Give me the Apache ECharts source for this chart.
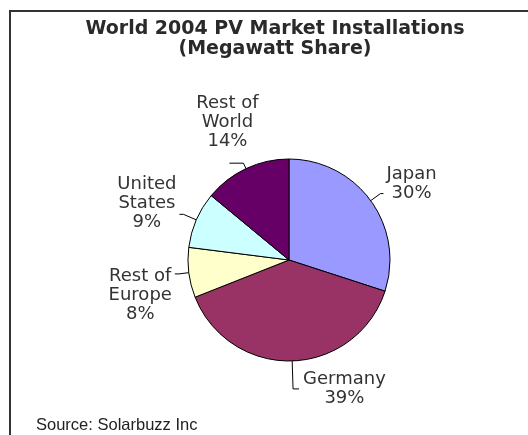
<!DOCTYPE html>
<html>
<head>
<meta charset="utf-8">
<script src="https://cdn.jsdelivr.net/npm/echarts@6/dist/echarts.min.js"></script>
<style>
  html, body { margin: 0; padding: 0; background: #ffffff; }
  #chart { width: 528px; height: 435px; }
</style>
</head>
<body>
<div id="chart"></div>
<script>
const titleLines = ['World 2004 PV Market Installations', '(Megawatt Share)'];
const sourceText = 'Source: Solarbuzz Inc';
const categories = ['Japan', 'Germany', 'Rest of\nEurope', 'United\nStates', 'Rest of\nWorld'];
const shares = [30, 39, 8, 9, 14];
const colors = ['#9999FF', '#993366', '#FFFFCC', '#CCFFFF', '#660066'];

// per-slice label styling (leader line lengths, text padding)
const labelStyles = [
  { length: 12, length2: 3, distance: 3, padding: [0, 0, 20, 0] },
  { length: 28, length2: 6, distance: 4, padding: [0, 0, 0, 0] },
  { length: 10, length2: 4, distance: 3, padding: [42, 0, 0, 0] },
  { length: 14, length2: 4, distance: 3, padding: [0, 0, 22, 0] },
  { length: 6, length2: 14, distance: 2, padding: [0, 0, 12, 0] }
];

const chart = echarts.init(document.getElementById('chart'), null, { renderer: 'canvas' });

const data = categories.map((name, i) => ({
  name: name,
  value: shares[i],
  itemStyle: { color: colors[i] },
  labelLine: { length: labelStyles[i].length, length2: labelStyles[i].length2 },
  label: { padding: labelStyles[i].padding, distanceToLabelLine: labelStyles[i].distance }
}));

const option = {
  backgroundColor: '#ffffff',
  animation: false,
  title: [
    {
      text: titleLines.join('\n'),
      left: 270,
      top: 14,
      textAlign: 'center',
      textStyle: {
        fontFamily: 'DejaVu Sans',
        fontWeight: 'bold',
        fontSize: 19,
        lineHeight: 20,
        color: '#2a2a2a'
      }
    },
    {
      text: sourceText,
      left: 31,
      top: 411,
      textStyle: {
        fontFamily: 'Liberation Sans',
        fontWeight: 'normal',
        fontSize: 16.5,
        lineHeight: 18,
        color: '#222222'
      }
    }
  ],
  graphic: [
    {
      type: 'rect',
      shape: { x: 10, y: 11, width: 700, height: 700 },
      style: { fill: 'none', stroke: '#333333', lineWidth: 2 },
      silent: true
    }
  ],
  series: [
    {
      type: 'pie',
      center: [289, 260],
      radius: 101,
      startAngle: 90,
      clockwise: true,
      avoidLabelOverlap: false,
      itemStyle: { borderColor: '#000000', borderWidth: 1 },
      label: {
        show: true,
        position: 'outside',
        formatter: function (p) {
          return p.name.split('\n').concat([p.value + '%']).map(s => '{c|' + s + '}').join('\n');
        },
        rich: {
          c: {
            fontFamily: 'DejaVu Sans',
            fontSize: 18,
            lineHeight: 19,
            color: '#333333',
            align: 'center'
          }
        }
      },
      labelLine: {
        show: true,
        lineStyle: { color: '#000000', width: 1 }
      },
      labelLayout: function (params) {
        if (params.dataIndex === 4) {
          return { align: 'center', verticalAlign: 'bottom' };
        }
        return {};
      },
      emphasis: { disabled: true },
      data: data
    }
  ]
};

chart.setOption(option);
</script>
</body>
</html>
